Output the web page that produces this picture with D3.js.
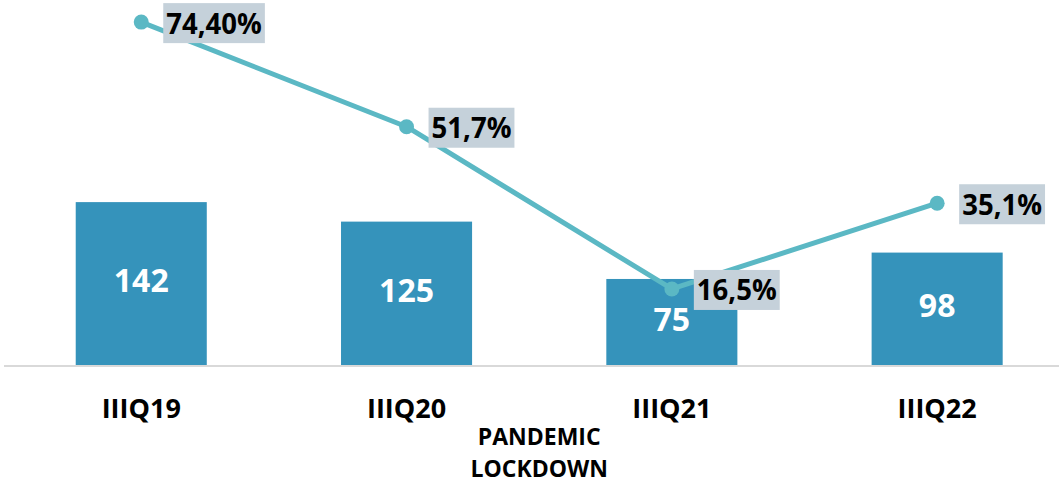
<!DOCTYPE html>
<html>
<head>
<meta charset="utf-8">
<script src="https://cdn.jsdelivr.net/npm/d3@7"></script>
<style>
  html, body { margin: 0; padding: 0; background: #ffffff; }
  svg { display: block; }
  text { font-family: "Open Sans", "Noto Sans", sans-serif; font-weight: 700; }
</style>
</head>
<body>
<svg id="chart" width="1059" height="485"></svg>
<script>
// Quarterly volumes (bars) and rate (line, %)
const categories = ["IIIQ19", "IIIQ20", "IIIQ21", "IIIQ22"];
const barValues = [142, 125, 75, 98];
const rateValues = [74.4, 51.7, 16.5, 35.1];
const rateLabels = ["74,40%", "51,7%", "16,5%", "35,1%"];
const noteLines = ["PANDEMIC", "LOCKDOWN"];

const W = 1059, H = 485;
const baseY = 365;
const svg = d3.select("#chart");

const x = d3.scaleBand()
  .domain(categories)
  .range([8.6, 1069.8])
  .paddingInner(0.506)
  .paddingOuter(0.253);

const yBar = d3.scaleLinear().domain([0, 318.2]).range([baseY, 0]);
const yRate = d3.scaleLinear().domain([0, 79.2]).range([baseY, 0]);

const barColor = "#3593bb";
const lineColor = "#5bb8c4";

// Bars
svg.append("g").selectAll("rect")
  .data(barValues)
  .join("rect")
  .attr("x", (d, i) => x(categories[i]))
  .attr("width", x.bandwidth())
  .attr("y", d => yBar(d))
  .attr("height", d => yBar(0) - yBar(d))
  .attr("fill", barColor);

// Bar value labels
svg.append("g").selectAll("text")
  .data(barValues)
  .join("text")
  .attr("x", (d, i) => x(categories[i]) + x.bandwidth() / 2)
  .attr("y", d => (yBar(d) + yBar(0)) / 2 - 3)
  .attr("dy", "0.36em")
  .attr("text-anchor", "middle")
  .attr("fill", "#ffffff")
  .attr("font-size", 32)
  .text(d => d);

// Category axis
const axis = d3.axisBottom(x).tickSize(0).tickPadding(0);
const gx = svg.append("g").attr("transform", `translate(0,${baseY + 1})`).call(axis);
gx.select(".domain").remove();
gx.append("line")
  .attr("x1", 4).attr("x2", W)
  .attr("y1", 0).attr("y2", 0)
  .attr("stroke", "#d9d9d9").attr("stroke-width", 2);
gx.selectAll(".tick text")
  .attr("font-family", null)
  .attr("font-size", null)
  .style("font-size", "27px")
  .attr("fill", "#000000")
  .attr("y", 42)
  .attr("dy", "0.36em")
  .attr("x", 0);

// Rate line
const cx = (i) => x(categories[i]) + x.bandwidth() / 2;
const line = d3.line()
  .x((d, i) => cx(i))
  .y(d => yRate(d));

svg.append("path")
  .datum(rateValues)
  .attr("d", line)
  .attr("fill", "none")
  .attr("stroke", lineColor)
  .attr("stroke-width", 5)
  .attr("stroke-linejoin", "round");

svg.append("g").selectAll("circle")
  .data(rateValues)
  .join("circle")
  .attr("cx", (d, i) => cx(i))
  .attr("cy", d => yRate(d))
  .attr("r", 7.5)
  .attr("fill", lineColor);

// Rate labels with shaded boxes
const lbl = svg.append("g").selectAll("g")
  .data(rateValues)
  .join("g")
  .attr("transform", (d, i) => `translate(${cx(i) + 22},${yRate(d) + 1})`);

const sx = 0.95;
lbl.each(function(d, i) {
  const g = d3.select(this);
  const box = g.append("rect").attr("fill", "#c5d1da");
  const t = g.append("text")
    .attr("dy", "0.36em")
    .attr("font-size", 29)
    .attr("fill", "#000000")
    .attr("transform", `translate(3,0) scale(${sx},1)`)
    .text(rateLabels[i]);
  const bb = t.node().getBBox();
  box.attr("x", 0).attr("y", -20)
    .attr("width", bb.width * sx + 6)
    .attr("height", 40);
});

// Annotation under the axis
svg.append("g")
  .attr("transform", `translate(${(cx(1) + cx(2)) / 2},0)`)
  .selectAll("text")
  .data(noteLines)
  .join("text")
  .attr("x", 0)
  .attr("y", (d, i) => 437 + i * 32)
  .attr("dy", "0.36em")
  .attr("text-anchor", "middle")
  .attr("font-size", 23)
  .attr("fill", "#000000")
  .text(d => d);
</script>
</body>
</html>
